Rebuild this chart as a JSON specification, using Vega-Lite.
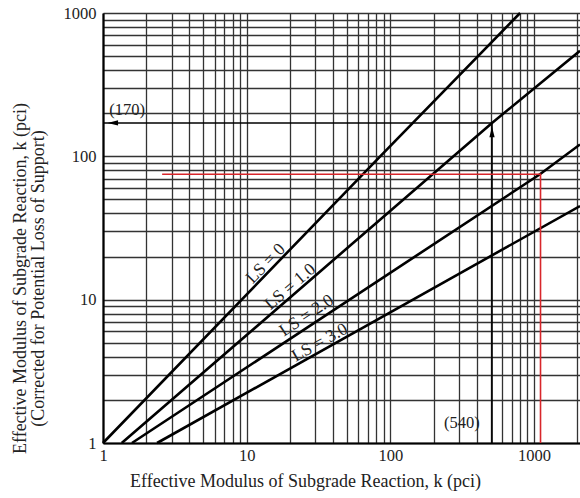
{
  "$schema": "https://vega.github.io/schema/vega-lite/v6.json",
  "width": 477,
  "height": 430,
  "autosize": {"type": "none"},
  "padding": {"left": 103, "top": 13, "right": 0, "bottom": 55},
  "background": "white",
  "config": {"view": {"stroke": null}, "font": "Liberation Serif"},
  "datasets": {
    "curves": [
      {"ls": "0", "x": 1, "y": 1}, {"ls": "0", "x": 85, "y": 100}, {"ls": "0", "x": 800, "y": 1000},
      {"ls": "1", "x": 1.35, "y": 1}, {"ls": "1", "x": 510, "y": 171}, {"ls": "1", "x": 2090, "y": 545},
      {"ls": "2", "x": 1.59, "y": 1}, {"ls": "2", "x": 1100, "y": 75}, {"ls": "2", "x": 2090, "y": 121},
      {"ls": "3", "x": 2.38, "y": 1}, {"ls": "3", "x": 2090, "y": 45}
    ],
    "arrows": [
      {"seg": "h", "x": 1, "y": 171}, {"seg": "h", "x": 510, "y": 171},
      {"seg": "v", "x": 510, "y": 1}, {"seg": "v", "x": 510, "y": 171}
    ],
    "red": [
      {"i": 1, "x": 2.58, "y": 75}, {"i": 2, "x": 1110, "y": 75}, {"i": 3, "x": 1110, "y": 1}
    ]
  },
  "layer": [
    {
      "data": {"name": "curves"},
      "mark": {"type": "line", "color": "black", "strokeWidth": 2.6},
      "encoding": {
        "x": {
          "field": "x", "type": "quantitative",
          "scale": {"type": "log", "domain": [1, 2090], "nice": false},
          "axis": {
            "values": [1,2,3,4,5,6,7,8,9,10,20,30,40,50,60,70,80,90,100,200,300,400,500,600,700,800,900,1000,2000],
            "labelExpr": "indexof([1,10,100,1000], datum.value) >= 0 ? datum.value : ''",
            "labelOverlap": false, "labelFlush": false,
            "grid": true, "gridColor": "#333333", "gridWidth": 1.3,
            "ticks": false, "domainColor": "black", "domainWidth": 2.2,
            "labelFont": "Liberation Serif", "labelFontSize": 16.5, "labelColor": "#222", "labelPadding": 4,
            "title": "Effective Modulus of Subgrade Reaction, k (pci)",
            "titleFont": "Liberation Serif", "titleFontSize": 18, "titleFontWeight": "normal", "titleColor": "#222",
            "titleX": 202, "titleY": 43, "titleAlign": "center", "titleBaseline": "alphabetic"
          }
        },
        "y": {
          "field": "y", "type": "quantitative",
          "scale": {"type": "log", "domain": [1, 1000], "nice": false},
          "axis": {
            "values": [1,2,3,4,5,6,7,8,9,10,20,30,40,50,60,70,80,90,100,200,300,400,500,600,700,800,900,1000],
            "labelExpr": "indexof([1,10,100,1000], datum.value) >= 0 ? datum.value : ''",
            "labelOverlap": false, "labelFlush": false,
            "grid": true, "gridColor": "#333333", "gridWidth": 1.3,
            "ticks": false, "domainColor": "black", "domainWidth": 2.2,
            "labelFont": "Liberation Serif", "labelFontSize": 16.5, "labelColor": "#222", "labelPadding": 7,
            "title": ["Effective Modulus of Subgrade Reaction, k (pci)", "(Corrected for Potential Loss of Support)"],
            "titleFont": "Liberation Serif", "titleFontSize": 18, "titleFontWeight": "normal", "titleColor": "#222",
            "titleAngle": 270, "titleX": -92, "titleY": 265, "titleAlign": "center", "titleBaseline": "top", "titleLineHeight": 18
          }
        },
        "detail": {"field": "ls"}
      }
    },
    {
      "data": {"name": "arrows"},
      "mark": {"type": "line", "color": "black", "strokeWidth": 1.6},
      "encoding": {"x": {"field": "x", "type": "quantitative"}, "y": {"field": "y", "type": "quantitative"}, "detail": {"field": "seg"}}
    },
    {
      "data": {"name": "red"},
      "mark": {"type": "line", "color": "#d8262b", "strokeWidth": 1.6},
      "encoding": {"x": {"field": "x", "type": "quantitative"}, "y": {"field": "y", "type": "quantitative"}, "order": {"field": "i"}}
    },
    {
      "data": {"values": [{"x": 510, "y": 148}]},
      "mark": {"type": "point", "shape": "M0,-1L0.5,1L-0.5,1Z", "filled": true, "color": "black", "opacity": 1, "size": 110},
      "encoding": {"x": {"field": "x", "type": "quantitative"}, "y": {"field": "y", "type": "quantitative"}}
    },
    {
      "data": {"values": [{"x": 1.17, "y": 171}]},
      "mark": {"type": "point", "shape": "M-1,0L1,-0.5L1,0.5Z", "filled": true, "color": "black", "opacity": 1, "size": 110},
      "encoding": {"x": {"field": "x", "type": "quantitative"}, "y": {"field": "y", "type": "quantitative"}}
    },
    {
      "data": {"values": [{"t": "(170)", "x": 1.47, "y": 211}, {"t": "(540)", "x": 315, "y": 1.38}]},
      "mark": {"type": "text", "font": "Liberation Serif", "fontSize": 16.5, "color": "#222", "align": "center", "baseline": "middle"},
      "encoding": {"x": {"field": "x", "type": "quantitative"}, "y": {"field": "y", "type": "quantitative"}, "text": {"field": "t"}}
    },
    {
      "data": {"values": [{"t": "LS = 0", "x": 14.9, "y": 16.3}]},
      "mark": {"type": "text", "font": "Liberation Serif", "fontSize": 17.5, "color": "#222", "align": "center", "baseline": "alphabetic", "angle": 314, "dy": -3},
      "encoding": {"x": {"field": "x", "type": "quantitative"}, "y": {"field": "y", "type": "quantitative"}, "text": {"field": "t"}}
    },
    {
      "data": {"values": [{"t": "LS = 1.0", "x": 22.1, "y": 11.0}]},
      "mark": {"type": "text", "font": "Liberation Serif", "fontSize": 17.5, "color": "#222", "align": "center", "baseline": "alphabetic", "angle": 319.4, "dy": -4},
      "encoding": {"x": {"field": "x", "type": "quantitative"}, "y": {"field": "y", "type": "quantitative"}, "text": {"field": "t"}}
    },
    {
      "data": {"values": [{"t": "LS = 2.0", "x": 28.3, "y": 6.85}]},
      "mark": {"type": "text", "font": "Liberation Serif", "fontSize": 17.5, "color": "#222", "align": "center", "baseline": "alphabetic", "angle": 326.3, "dy": -4},
      "encoding": {"x": {"field": "x", "type": "quantitative"}, "y": {"field": "y", "type": "quantitative"}, "text": {"field": "t"}}
    },
    {
      "data": {"values": [{"t": "LS = 3.0", "x": 34.4, "y": 4.48}]},
      "mark": {"type": "text", "font": "Liberation Serif", "fontSize": 17.5, "color": "#222", "align": "center", "baseline": "alphabetic", "angle": 330.7, "dy": -3},
      "encoding": {"x": {"field": "x", "type": "quantitative"}, "y": {"field": "y", "type": "quantitative"}, "text": {"field": "t"}}
    }
  ]
}
